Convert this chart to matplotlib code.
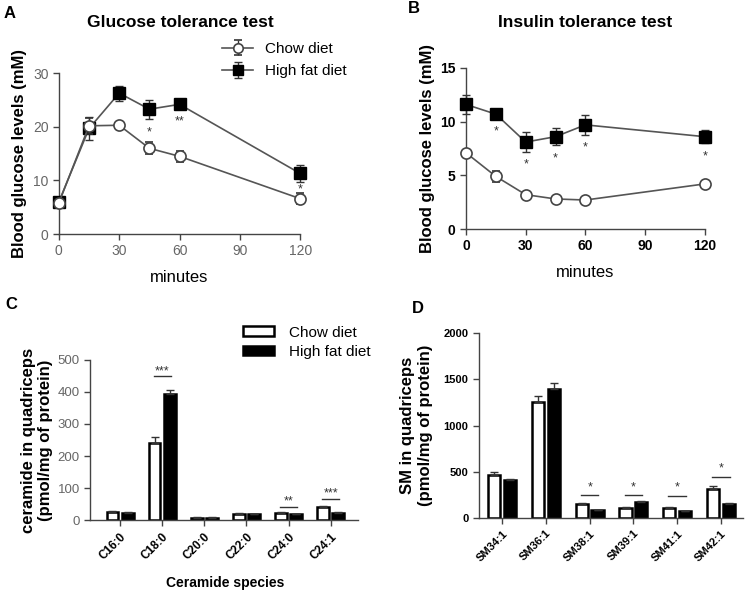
import numpy as np
from matplotlib import pyplot as plt

plt.rcParams['font.family'] = ['Liberation Sans', 'DejaVu Sans']

# panel A: glucose tolerance test
minutes = [0, 15, 30, 45, 60, 120]
gtt_chow = [5.8, 20.2, 20.3, 16.0, 14.5, 6.6]
gtt_chow_err = [0.6, 1.5, 0.4, 1.1, 1.0, 1.0]
gtt_hfd = [6.0, 19.7, 26.3, 23.3, 24.2, 11.3]
gtt_hfd_err = [0.5, 2.2, 1.4, 1.8, 0.6, 1.5]
gtt_stars = ['', '', '', '*', '**', '*']
gtt_star_y = [0, 0, 0, 19.7, 21.8, 9.1]

# panel B: insulin tolerance test
itt_chow = [7.1, 4.9, 3.2, 2.8, 2.7, 4.2]
itt_chow_err = [0.2, 0.5, 0.2, 0.1, 0.1, 0.2]
itt_hfd = [11.6, 10.7, 8.1, 8.6, 9.7, 8.6]
itt_hfd_err = [0.9, 0.3, 0.9, 0.8, 0.9, 0.6]
itt_stars = ['', '*', '*', '*', '*', '*']
itt_star_y = [0, 9.5, 6.4, 6.9, 8.0, 7.1]

# panel C: ceramides
cer_species = ['C16:0', 'C18:0', 'C20:0', 'C22:0', 'C24:0', 'C24:1']
cer_chow = [25, 240, 8, 20, 22, 42]
cer_chow_err = [2, 18, 1, 2, 2, 3]
cer_hfd = [22, 395, 8, 18, 18, 22]
cer_hfd_err = [2, 10, 1, 1, 1, 2]
cer_sig = {1: '***', 4: '**', 5: '***'}
cer_line_y = {1: 450, 4: 40, 5: 65}
cer_star_y = {1: 475, 4: 72, 5: 97}

# panel D: sphingomyelins
sm_species = ['SM34:1', 'SM36:1', 'SM38:1', 'SM39:1', 'SM41:1', 'SM42:1']
sm_chow = [470, 1250, 150, 110, 110, 310]
sm_chow_err = [25, 70, 10, 5, 5, 40]
sm_hfd = [410, 1400, 85, 175, 75, 155]
sm_hfd_err = [15, 55, 5, 5, 5, 5]
sm_sig = {2: '*', 3: '*', 4: '*', 5: '*'}
sm_line_y = {2: 249, 3: 249, 4: 238, 5: 443}
sm_star_y = {2: 368, 3: 368, 4: 378, 5: 584}

fig = plt.figure(figsize=(7.45, 5.91), dpi=100)
gray = '#555555'


def star(ax, x, y, s):
    # baseline placed below y so that the asterisk glyph is centred on y
    ax.annotate(s, (x, y), xytext=(0, -5), textcoords='offset points', ha='center',
                va='baseline', fontsize=9, color='#333333', annotation_clip=False)


def style_axes(ax, tick_color, bold):
    for s in ['top', 'right']:
        ax.spines[s].set_visible(False)
    for s in ['left', 'bottom']:
        ax.spines[s].set_color('#444444')
        ax.spines[s].set_linewidth(1.0)
    ax.tick_params(direction='out', length=4, width=1, colors='#444444')
    for lab in ax.get_xticklabels() + ax.get_yticklabels():
        lab.set_color(tick_color)
        if bold:
            lab.set_fontweight('bold')


def line_panel(ax, chow, chow_err, hfd, hfd_err, stars, star_y, ymax, yticks):
    ax.errorbar(minutes, hfd, yerr=hfd_err, color=gray, lw=1.2, marker='s', ms=8,
                mfc='black', mec='black', ecolor='#333333', elinewidth=1, capsize=3,
                clip_on=False, zorder=3, label='High fat diet')
    ax.errorbar(minutes, chow, yerr=chow_err, color=gray, lw=1.2, marker='o', ms=8,
                mfc='white', mec='#444444', mew=1.2, ecolor='#333333', elinewidth=1,
                capsize=3, clip_on=False, zorder=4, label='Chow diet')
    for x, y, s in zip(minutes, star_y, stars):
        if s:
            star(ax, x, y, s)
    ax.set_xlim(0, 120)
    ax.set_ylim(0, ymax)
    ax.set_xticks([0, 30, 60, 90, 120])
    ax.set_yticks(yticks)
    ax.set_xlabel('minutes', fontsize=12, labelpad=8)
    ax.set_ylabel('Blood glucose levels (mM)', fontsize=12, fontweight='bold', labelpad=4)


# A
axA = fig.add_axes([0.079, 0.604, 0.324, 0.272])
line_panel(axA, gtt_chow, gtt_chow_err, gtt_hfd, gtt_hfd_err, gtt_stars, gtt_star_y,
           30, [0, 10, 20, 30])
axA.tick_params(labelsize=10)
style_axes(axA, '#666666', False)
h, l = axA.get_legend_handles_labels()
axA.legend(h[::-1], l[::-1], loc='upper left', bbox_to_anchor=(0.62, 1.28), frameon=False,
           fontsize=11, handlelength=2.0, labelspacing=0.55, markerscale=0.85)
fig.text(0.242, 0.962, 'Glucose tolerance test', ha='center', va='center', fontsize=12.5, fontweight='bold')
fig.text(0.005, 0.978, 'A', ha='left', va='center', fontsize=12, fontweight='bold')

# B
axB = fig.add_axes([0.6255, 0.6125, 0.3205, 0.2725])
line_panel(axB, itt_chow, itt_chow_err, itt_hfd, itt_hfd_err, itt_stars, itt_star_y,
           15, [0, 5, 10, 15])
axB.tick_params(labelsize=10)
style_axes(axB, 'black', True)
fig.text(0.785, 0.962, 'Insulin tolerance test', ha='center', va='center', fontsize=12.5, fontweight='bold')
fig.text(0.548, 0.985, 'B', ha='left', va='center', fontsize=12, fontweight='bold')


def bar_panel(ax, cats, chow, chow_err, hfd, hfd_err, sig, line_y, star_y, ymax, yticks, xlim):
    x = np.arange(len(cats))
    w = 0.28
    off = 0.18
    ax.bar(x - off, chow, w, yerr=[np.zeros(len(cats)), chow_err], color='white',
           edgecolor='black', linewidth=1.8, error_kw=dict(ecolor='#333333', elinewidth=1, capsize=3),
           label='Chow diet')
    ax.bar(x + off, hfd, w, yerr=[np.zeros(len(cats)), hfd_err], color='black',
           edgecolor='black', linewidth=1.8, error_kw=dict(ecolor='#333333', elinewidth=1, capsize=3),
           label='High fat diet')
    for i, s in sig.items():
        ax.plot([i - 0.2, i + 0.2], [line_y[i], line_y[i]], color='#333333', lw=1)
        star(ax, i, star_y[i], s)
    ax.set_xlim(*xlim)
    ax.set_ylim(0, ymax)
    ax.set_yticks(yticks)
    ax.set_xticks(x)
    ax.set_xticklabels(cats, rotation=45, ha='right', rotation_mode='anchor', fontsize=8.5,
                       fontweight='bold')


# C
axC = fig.add_axes([0.121, 0.12, 0.359, 0.271])
bar_panel(axC, cer_species, cer_chow, cer_chow_err, cer_hfd, cer_hfd_err, cer_sig, cer_line_y,
          cer_star_y, 500, [0, 100, 200, 300, 400, 500], (-0.71, 5.64))
axC.tick_params(axis='y', labelsize=9.5)
style_axes(axC, '#666666', False)
for lab in axC.get_xticklabels():
    lab.set_color('black')
    lab.set_fontweight('bold')
axC.set_ylabel('ceramide in quadriceps\n(pmol/mg of protein)', fontsize=12, fontweight='bold', labelpad=3)
fig.text(0.302, 0.0135, 'Ceramide species', ha='center', va='center', fontsize=10, fontweight='bold')
axC.legend(loc='upper left', bbox_to_anchor=(0.52, 1.3), frameon=False, fontsize=11,
           handlelength=2.0, handleheight=0.6, labelspacing=0.35, handletextpad=1.0)
fig.text(0.007, 0.484, 'C', ha='left', va='center', fontsize=12, fontweight='bold')

# D
axD = fig.add_axes([0.643, 0.1235, 0.354, 0.313])
bar_panel(axD, sm_species, sm_chow, sm_chow_err, sm_hfd, sm_hfd_err, sm_sig, sm_line_y,
          sm_star_y, 2000, [0, 500, 1000, 1500, 2000], (-0.53, 5.5))
axD.tick_params(labelsize=8)
style_axes(axD, 'black', True)
axD.set_ylabel('SM in quadriceps\n(pmol/mg of protein)', fontsize=12, fontweight='bold', labelpad=8)
fig.text(0.553, 0.478, 'D', ha='left', va='center', fontsize=12, fontweight='bold')

fig.savefig('out.png', dpi=100)
